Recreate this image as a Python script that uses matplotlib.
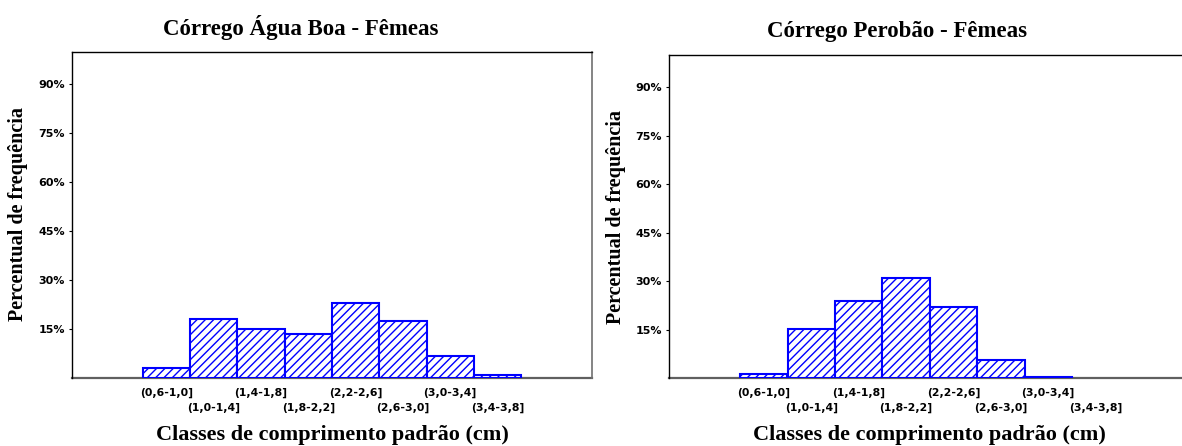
import numpy as np
import matplotlib
matplotlib.use("Agg")
import matplotlib.pyplot as plt

classes = ["(0,6-1,0]", "(1,0-1,4]", "(1,4-1,8]", "(1,8-2,2]",
           "(2,2-2,6]", "(2,6-3,0]", "(3,0-3,4]", "(3,4-3,8]"]
femeas_agua_boa = [3.0, 18.1, 15.1, 13.4, 23.0, 17.5, 6.8, 1.0]
femeas_perobao = [1.3, 15.1, 23.8, 31.0, 21.9, 5.5, 0.4, 0.0]
yticks = [15, 30, 45, 60, 75, 90]
ytick_labels = ["15%", "30%", "45%", "60%", "75%", "90%"]

titles = ["Córrego Água Boa - Fêmeas", "Córrego Perobão - Fêmeas"]
ylabel = "Percentual de frequência"
xlabel = "Classes de comprimento padrão (cm)"

plt.rcParams['hatch.linewidth'] = 1.0
plt.rcParams['hatch.color'] = '#0000ff'

W, H = 1182, 446
fig = plt.figure(figsize=(W / 100, H / 100), dpi=100)

serif = 'Liberation Serif'
sans = 'DejaVu Sans'

def px(x, y):
    return x / W, 1 - y / H

axes_pos = [
    (72 / W, (H - 378) / H, 520 / W, (378 - 51.7) / H),
    (669 / W, (H - 378) / H, 521.4 / W, (378 - 55) / H),
]
data = [femeas_agua_boa, femeas_perobao]
title_pos = [(300.7, 27), (897, 31)]
ylab_pos = [(18, 214), (615.7, 217)]
xlab_pos = [(332, 435), (929, 435)]

for k in range(2):
    ax = fig.add_axes(axes_pos[k])
    x = np.arange(len(classes))
    vals = np.asarray(data[k], dtype=float)
    keep = vals > 0
    ax.bar(x[keep], vals[keep], width=1.0, color='white', edgecolor='#0000ff',
           linewidth=1.5, hatch='////', zorder=3)
    ax.set_xlim(-2, 9)
    ax.set_ylim(0, 100)
    ax.set_yticks(yticks)
    ax.set_yticklabels(ytick_labels, fontfamily=sans, fontweight='bold',
                       fontsize=8)
    ax.tick_params(axis='y', direction='out', length=2.5, width=0.8, pad=2.5)
    even = x[::2]
    odd = x[1::2]
    ax.set_xticks(even)
    ax.set_xticklabels([classes[i] for i in even], fontfamily=sans,
                       fontweight='bold', fontsize=7.8)
    ax.set_xticks(odd, minor=True)
    ax.set_xticklabels([classes[i] for i in odd], minor=True, fontfamily=sans,
                       fontweight='bold', fontsize=7.8)
    ax.tick_params(axis='x', which='major', length=0, pad=7.0)
    ax.tick_params(axis='x', which='minor', length=0, pad=17.6)
    for s in ['left', 'top']:
        ax.spines[s].set_color('black')
        ax.spines[s].set_linewidth(1.0)
    ax.spines['bottom'].set_color('#606060')
    ax.spines['bottom'].set_linewidth(1.6)
    ax.spines['right'].set_color('#707070')
    ax.spines['right'].set_linewidth(1.2)
    ax.spines['bottom'].set_zorder(2)

    tx, ty = px(*title_pos[k])
    fig.text(tx, ty, titles[k], fontfamily=serif, fontweight='bold',
             fontsize=16.5, ha='center', va='center')
    lx, ly = px(*ylab_pos[k])
    fig.text(lx, ly, ylabel, fontfamily=serif, fontweight='bold',
             fontsize=14.5, rotation=90, ha='center', va='center')
    bx, by = px(*xlab_pos[k])
    fig.text(bx, by, xlabel, fontfamily=serif, fontweight='bold',
             fontsize=16, ha='center', va='center')

fig.savefig("out.png", dpi=100)
